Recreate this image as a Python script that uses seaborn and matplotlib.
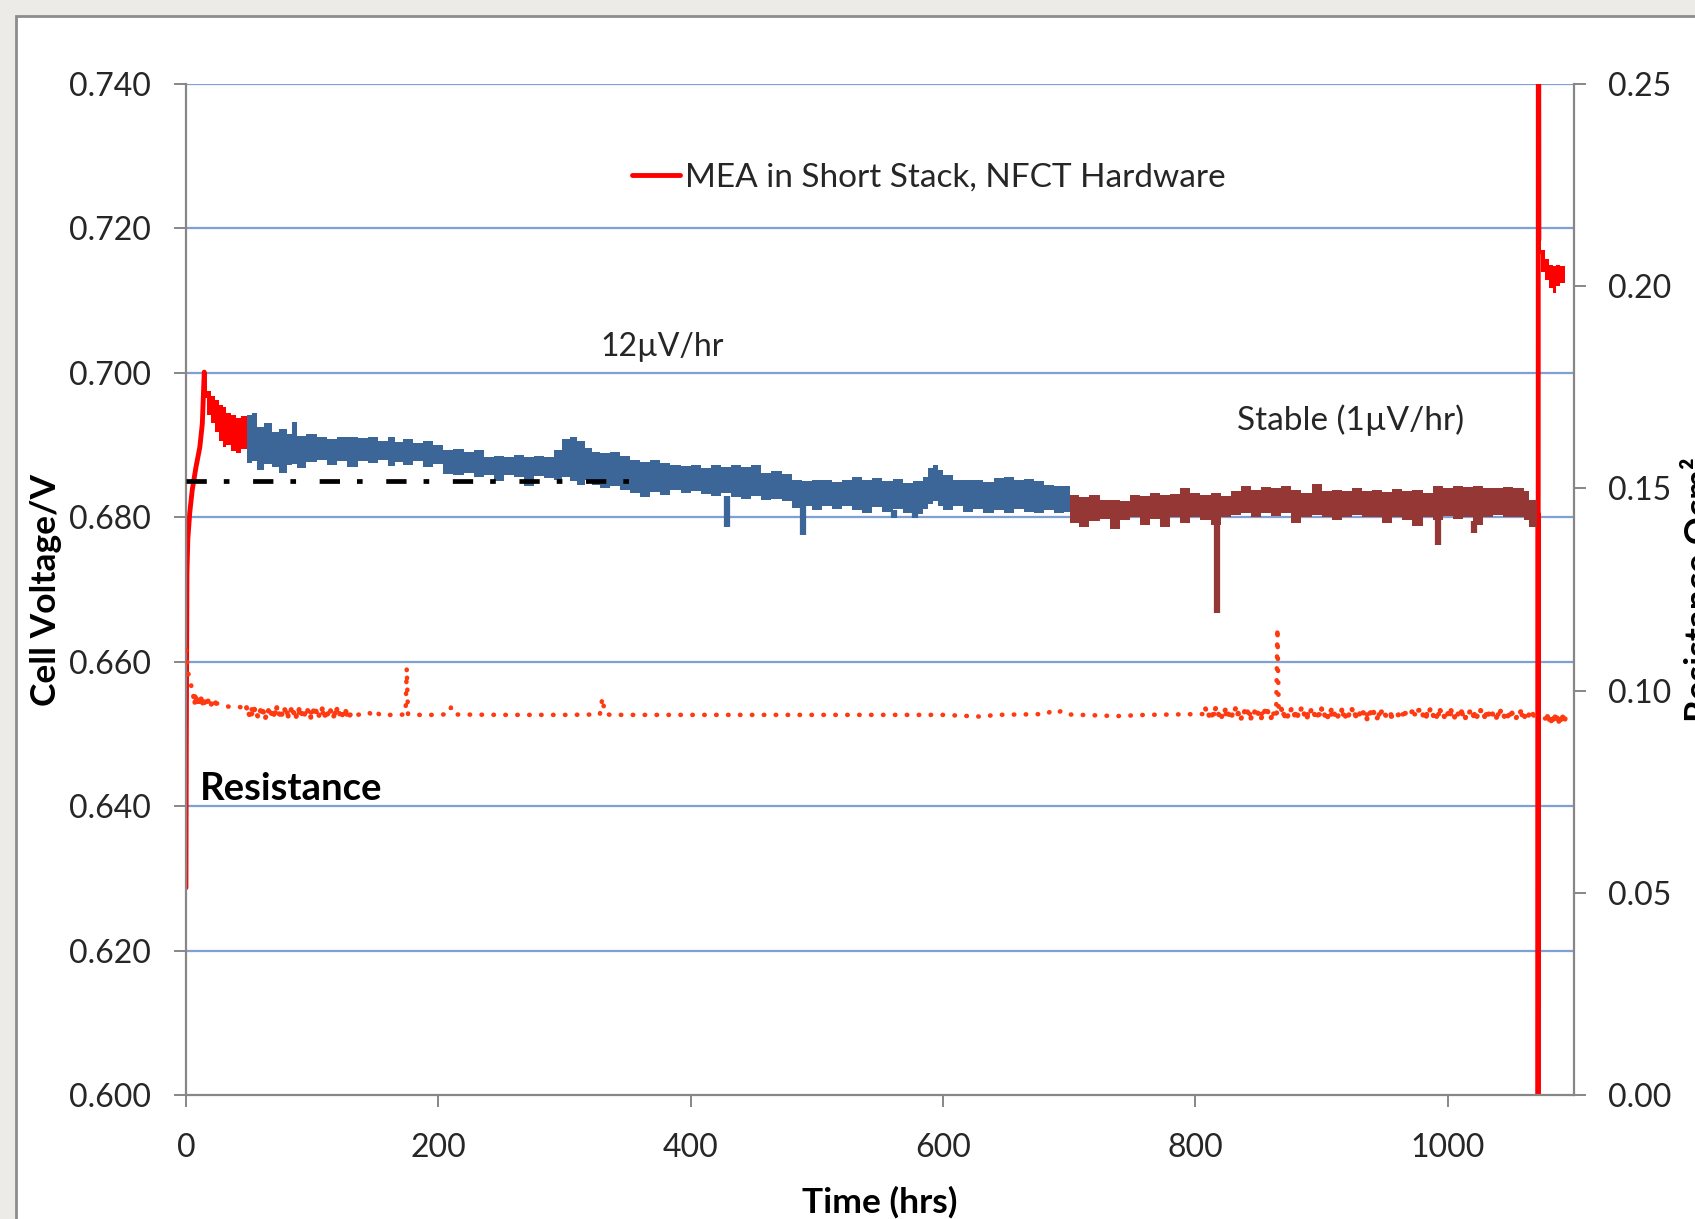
import numpy as np
import matplotlib
matplotlib.use("Agg")
import matplotlib.pyplot as plt
from matplotlib.lines import Line2D
from matplotlib.patches import Rectangle
import seaborn as sns

# ---------------- data ----------------
# initial red voltage rise (V)
rise_t = [0, 0.3, 0.8, 1.5, 3, 5, 8, 11, 13, 14.5]
rise_v = [0.6287, 0.650, 0.6723, 0.677, 0.6806, 0.6838, 0.6870, 0.6897, 0.6930, 0.7001]

# red decay band after the peak
dec_t  = [14.5, 17, 20, 23, 26, 29, 32, 36, 40, 44, 48]
dec_hi = [0.7001, 0.6975, 0.6968, 0.6962, 0.6956, 0.6953, 0.6945, 0.6942, 0.6938, 0.6940, 0.6935]
dec_lo = [0.6965, 0.6942, 0.6930, 0.6918, 0.6905, 0.6897, 0.6900, 0.6892, 0.6889, 0.6895, 0.6885]

# blue band (12 uV/hr region)
blue_t = [48, 52, 56, 62, 68, 74, 80, 84, 88, 95, 104, 112, 120, 128, 136, 144, 152, 160, 166, 172,
          180, 188, 196, 204, 212, 220, 228, 236, 244, 252, 260, 268, 276, 284, 292, 298, 304, 310,
          316, 322, 328, 336, 344, 352, 360, 368, 376, 384, 392, 400, 408, 416, 424, 432, 440, 448,
          456, 464, 472, 480, 488, 496, 504, 512, 520, 528, 536, 544, 552, 560, 568, 576, 584, 588,
          592, 596, 600, 608, 616, 624, 632, 640, 648, 656, 664, 672, 680, 688, 696, 701]
blue_hi = [0.6942, 0.6945, 0.6925, 0.6930, 0.6918, 0.6922, 0.6915, 0.6932, 0.6913, 0.6916, 0.6911,
           0.6909, 0.6911, 0.6911, 0.6910, 0.6911, 0.6906, 0.6911, 0.6904, 0.6908, 0.6903, 0.6906,
           0.6900, 0.6893, 0.6895, 0.6890, 0.6893, 0.6883, 0.6885, 0.6883, 0.6886, 0.6883, 0.6885,
           0.6883, 0.6893, 0.6908, 0.6911, 0.6905, 0.6896, 0.6891, 0.6889, 0.6890, 0.6885, 0.6880,
           0.6876, 0.6880, 0.6875, 0.6873, 0.6871, 0.6873, 0.6868, 0.6873, 0.6870, 0.6873, 0.6870,
           0.6872, 0.6862, 0.6864, 0.6860, 0.6852, 0.6850, 0.6852, 0.6851, 0.6849, 0.6852, 0.6856,
           0.6852, 0.6855, 0.6850, 0.6853, 0.6848, 0.6850, 0.6856, 0.6868, 0.6873, 0.6866, 0.6858,
           0.6852, 0.6851, 0.6852, 0.6849, 0.6855, 0.6856, 0.6852, 0.6853, 0.6850, 0.6845, 0.6843,
           0.6843, 0.6843]
blue_lo = [0.6875, 0.6878, 0.6866, 0.6874, 0.6870, 0.6862, 0.6872, 0.6874, 0.6868, 0.6876, 0.6879,
           0.6872, 0.6878, 0.6870, 0.6878, 0.6875, 0.6879, 0.6871, 0.6876, 0.6872, 0.6878, 0.6870,
           0.6874, 0.6860, 0.6858, 0.6862, 0.6856, 0.6858, 0.6850, 0.6858, 0.6856, 0.6844, 0.6857,
           0.6855, 0.6852, 0.6856, 0.6850, 0.6845, 0.6852, 0.6845, 0.6840, 0.6843, 0.6838, 0.6833,
           0.6828, 0.6835, 0.6831, 0.6838, 0.6833, 0.6836, 0.6832, 0.6830, 0.6833, 0.6828, 0.6826,
           0.6830, 0.6824, 0.6826, 0.6822, 0.6813, 0.6815, 0.6810, 0.6815, 0.6812, 0.6815, 0.6810,
           0.6806, 0.6814, 0.6808, 0.6812, 0.6806, 0.6804, 0.6812, 0.6818, 0.6822, 0.6815, 0.6810,
           0.6815, 0.6808, 0.6812, 0.6806, 0.6810, 0.6806, 0.6812, 0.6808, 0.6806, 0.6810, 0.6806,
           0.6808, 0.6808]
blue_spike_t   = [429, 489, 561, 578]
blue_spike_top = [0.6830, 0.6815, 0.6810, 0.6806]
blue_spike_lo  = [0.6787, 0.6776, 0.6799, 0.6799]

# brown band (stable 1 uV/hr region)
brown_t = [701, 708, 716, 724, 732, 740, 748, 756, 764, 772, 780, 788, 796, 804, 812, 820, 828, 836,
           844, 852, 860, 868, 876, 884, 892, 900, 908, 916, 924, 932, 940, 948, 956, 964, 972, 980,
           988, 996, 1004, 1012, 1020, 1028, 1036, 1044, 1052, 1060, 1064, 1071]
brown_hi = [0.6831, 0.6828, 0.6831, 0.6824, 0.6824, 0.6822, 0.6831, 0.6830, 0.6833, 0.6831, 0.6832,
            0.6840, 0.6833, 0.6831, 0.6833, 0.6830, 0.6836, 0.6843, 0.6838, 0.6842, 0.6840, 0.6843,
            0.6838, 0.6834, 0.6846, 0.6836, 0.6838, 0.6836, 0.6840, 0.6836, 0.6838, 0.6835, 0.6839,
            0.6836, 0.6838, 0.6834, 0.6843, 0.6840, 0.6843, 0.6842, 0.6843, 0.6840, 0.6840, 0.6842,
            0.6840, 0.6836, 0.6824, 0.6824]
brown_lo = [0.6792, 0.6787, 0.6795, 0.6797, 0.6784, 0.6796, 0.6800, 0.6790, 0.6798, 0.6787, 0.6800,
            0.6792, 0.6801, 0.6796, 0.6790, 0.6801, 0.6803, 0.6806, 0.6800, 0.6806, 0.6802, 0.6806,
            0.6792, 0.6801, 0.6803, 0.6800, 0.6796, 0.6801, 0.6803, 0.6800, 0.6801, 0.6792, 0.6800,
            0.6796, 0.6788, 0.6800, 0.6796, 0.6802, 0.6798, 0.6801, 0.6790, 0.6801, 0.6803, 0.6800,
            0.6801, 0.6796, 0.6787, 0.6787]
brown_spike_t   = [817, 992, 1021]
brown_spike_top = [0.6800, 0.6800, 0.6795]
brown_spike_lo  = [0.6667, 0.6762, 0.6778]

# voltage interruption and final red segment
drop_t = [1071.5, 1071.5, 1071.8, 1072.2]
drop_v = [0.6805, 0.55, 0.80, 0.7184]
end_t  = [1072.2, 1074, 1077, 1080, 1083, 1086, 1089, 1093]
end_hi = [0.7184, 0.7170, 0.7157, 0.7150, 0.7148, 0.7150, 0.7148, 0.7148]
end_lo = [0.7165, 0.7140, 0.7128, 0.7118, 0.7110, 0.7120, 0.7125, 0.7125]

# linear fit reference line (dash-dot)
fit_t = [0, 358]
fit_v = [0.685, 0.685]

# resistance (Ohm cm2), right axis: main dotted trace
res_t = [0, 0.5, 1, 2, 3, 4, 5, 6, 10, 15, 20, 25, 30, 35, 40, 47, 60, 80, 100, 120, 130,
         132, 140, 145, 148, 151, 154, 160, 170, 174, 175, 176, 180, 200, 208, 210, 212, 250, 300,
         328, 330, 332, 336, 400, 500, 600, 628, 632, 640, 682, 686, 690, 694, 700, 738, 760,
         806, 830, 860, 864, 865, 866, 870, 900, 950, 1000, 1050, 1071, 1075, 1080, 1093]
res_v = [0.1100, 0.1080, 0.1070, 0.1040, 0.1030, 0.1015, 0.1000, 0.0990, 0.0975, 0.0972, 0.0970,
         0.0968, 0.0962, 0.0960, 0.0960, 0.0958, 0.0947, 0.0945, 0.0946, 0.0944, 0.0940,
         0.0940, 0.0941, 0.0946, 0.0938, 0.0947, 0.0939, 0.0940, 0.0940, 0.0942, 0.1056, 0.0942,
         0.0940, 0.0940, 0.0942, 0.0958, 0.0941, 0.0940, 0.0940, 0.0941, 0.0982, 0.0944, 0.0940,
         0.0940, 0.0940, 0.0940, 0.0936, 0.0935, 0.0940, 0.0942, 0.0950, 0.0945, 0.0950, 0.0941,
         0.0937, 0.0940,
         0.0942, 0.0942, 0.0943, 0.0943, 0.1155, 0.0944, 0.0942, 0.0941, 0.0941, 0.0942, 0.0941,
         0.0938, 0.0932, 0.0930, 0.0930]

# resistance: dense (many readings) clusters
dense_a_t = [6, 7, 8, 9, 10, 11, 12, 13, 14, 16, 18, 20, 22, 25]
dense_a_v = [0.0986, 0.0970, 0.0984, 0.0968, 0.0982, 0.0969, 0.0980, 0.0966, 0.0979, 0.0965,
             0.0977, 0.0966, 0.0975, 0.0964]
dense_b_t = [48, 51, 54, 57, 60, 63, 66, 69, 72, 75, 78, 81, 84, 87, 90, 93, 96, 99, 102, 105,
             108, 111, 114, 117, 120, 123, 126, 129, 132]
dense_b_v = [0.0958, 0.0934, 0.0956, 0.0936, 0.0957, 0.0933, 0.0955, 0.0935, 0.0958, 0.0934,
             0.0955, 0.0937, 0.0957, 0.0933, 0.0956, 0.0935, 0.0954, 0.0934, 0.0957, 0.0936,
             0.0955, 0.0933, 0.0954, 0.0936, 0.0956, 0.0934, 0.0952, 0.0937, 0.0945]
dense_c_t = [808, 812, 816, 820, 824, 828, 832, 836, 840, 844, 848, 852, 856, 860, 868, 872, 876,
             880, 884, 888, 892, 896, 900, 904, 908, 912, 916, 920, 924, 928, 932, 936, 940, 944,
             948, 952, 978, 982, 986, 990, 994, 998, 1002, 1006, 1010, 1014, 1018, 1022, 1026,
             1030, 1034, 1038, 1042, 1046, 1050, 1054, 1058, 1062, 1066, 1070]
dense_c_v = [0.0955, 0.0932, 0.0956, 0.0931, 0.0954, 0.0933, 0.0957, 0.0930, 0.0955, 0.0932,
             0.0953, 0.0931, 0.0956, 0.0933, 0.0955, 0.0930, 0.0954, 0.0932, 0.0956, 0.0931,
             0.0953, 0.0933, 0.0955, 0.0930, 0.0954, 0.0932, 0.0952, 0.0931, 0.0954, 0.0933,
             0.0951, 0.0930, 0.0953, 0.0932, 0.0950, 0.0934, 0.0952, 0.0931, 0.0953, 0.0930,
             0.0951, 0.0932, 0.0954, 0.0931, 0.0952, 0.0933, 0.0950, 0.0930, 0.0951, 0.0932,
             0.0949, 0.0931, 0.0950, 0.0930, 0.0948, 0.0932, 0.0949, 0.0931, 0.0947, 0.0932]
dense_d_t = [1079, 1080, 1081, 1082, 1083, 1084, 1085, 1086, 1087, 1088, 1089, 1090, 1091, 1092,
             1093]
dense_d_v = [0.0936, 0.0924, 0.0935, 0.0925, 0.0936, 0.0924, 0.0935, 0.0925, 0.0936, 0.0924,
             0.0935, 0.0925, 0.0936, 0.0924, 0.0930]

x_ticks = [0, 200, 400, 600, 800, 1000]
v_ticks = [0.600, 0.620, 0.640, 0.660, 0.680, 0.700, 0.720, 0.740]
r_ticks = [0.00, 0.05, 0.10, 0.15, 0.20, 0.25]

legend_label = "MEA in Short Stack, NFCT Hardware"

# ---------------- styling ----------------
sns.set_style("white")
plt.rcParams['font.family'] = ['Lato', 'DejaVu Sans']
TXT = '#262626'
AX = '#878787'
GRID = '#7FA0D2'
RED = '#FF0000'
BLUE = '#3C6697'
BROWN = '#953735'
RES = '#FF3A10'
FS = 23
LFS = 25.5

fig = plt.figure(figsize=(16.95, 12.19), dpi=100, facecolor='#EDEBE7')
panel = Rectangle((16 / 1695, -0.1), 1.2, 1 - 16 / 1219 + 0.1,
                  transform=fig.transFigure, facecolor='white',
                  edgecolor='#8C8C8C', linewidth=2, zorder=-10)
fig.patches.append(panel)

ax = fig.add_axes([0.1097, 0.1017, 0.8189, 0.8294])
ax.set_zorder(1)
ax.set_facecolor('none')
ax2 = ax.twinx()
ax2.set_zorder(2)
ax2.set_facecolor('none')

# voltage traces
sns.lineplot(x=rise_t, y=rise_v, ax=ax, color=RED, linewidth=3.5, estimator=None, sort=False)
ax.fill_between(dec_t, dec_lo, dec_hi, step='post', color=RED, linewidth=0, zorder=3)
ax.fill_between(blue_t, blue_lo, blue_hi, step='post', color=BLUE, linewidth=0, zorder=3)
ax.vlines(blue_spike_t, blue_spike_lo, blue_spike_top, color=BLUE, linewidth=4.5, zorder=3)
ax.fill_between(brown_t, brown_lo, brown_hi, step='post', color=BROWN, linewidth=0, zorder=3)
ax.vlines(brown_spike_t, brown_spike_lo, brown_spike_top, color=BROWN, linewidth=4.5, zorder=3)
sns.lineplot(x=drop_t, y=drop_v, ax=ax, color=RED, linewidth=3.5, estimator=None, sort=False)
ax.fill_between(end_t, end_lo, end_hi, step='post', color=RED, linewidth=0, zorder=3)

# dash-dot fit line
sns.lineplot(x=fit_t, y=fit_v, ax=ax, color='black', linewidth=3.4, estimator=None, sort=False)
ax.lines[-1].set_dashes([4.3, 3.6, 1.2, 5.0])
ax.lines[-1].set_zorder(4)

# resistance dotted line
sns.lineplot(x=res_t, y=res_v, ax=ax2, color=RES, linewidth=3.3, estimator=None, sort=False)
ln = ax2.lines[-1]
ln.set_linestyle((0, (0.1, 2.5)))
ln.set_dash_capstyle('round')
for dt, dv in [(dense_a_t, dense_a_v), (dense_b_t, dense_b_v),
               (dense_c_t, dense_c_v), (dense_d_t, dense_d_v)]:
    sns.lineplot(x=dt, y=dv, ax=ax2, color=RES, linewidth=3.6, estimator=None, sort=False)
    l2 = ax2.lines[-1]
    l2.set_linestyle((0, (0.1, 1.3)))
    l2.set_dash_capstyle('round')

# axes limits and ticks
ax.set_xlim(0, 1100)
ax.set_ylim(0.600, 0.740)
ax2.set_ylim(0.0, 0.25)
ax.set_xticks(x_ticks)
ax.set_xticklabels([str(t) for t in x_ticks])
ax.set_yticks(v_ticks)
ax.set_yticklabels([f"{v:.3f}" for v in v_ticks])
ax2.set_yticks(r_ticks)
ax2.set_yticklabels([f"{v:.2f}" for v in r_ticks])

ax.grid(False)
ax2.grid(False)
for v in v_ticks[1:]:
    ax.axhline(v, color=GRID, linewidth=1.6, zorder=1)

for s in ['top', 'right']:
    ax.spines[s].set_visible(False)
for s in ['left', 'bottom']:
    ax.spines[s].set_color(AX)
    ax.spines[s].set_linewidth(1.6)
for s in ['top', 'left', 'bottom']:
    ax2.spines[s].set_visible(False)
ax2.spines['right'].set_color(AX)
ax2.spines['right'].set_linewidth(1.6)

ax.tick_params(axis='y', which='both', left=True, direction='out', length=8.5, width=1.4,
               color=AX, labelsize=FS, labelcolor=TXT, pad=17)
ax.tick_params(axis='x', which='both', bottom=True, direction='out', length=8.5, width=1.4,
               color=AX, labelsize=FS, labelcolor=TXT, pad=19)
ax2.tick_params(axis='y', which='both', right=True, direction='out', length=8.5, width=1.4,
                color=AX, labelsize=FS, labelcolor=TXT, pad=16)

ax.set_ylabel("Cell Voltage/V", fontsize=LFS, fontweight='bold', color='black', va='center')
ax.yaxis.set_label_coords(-0.1009, 0.5)
ax.set_xlabel("Time (hrs)", fontsize=LFS, fontweight='bold', color='black', va='center')
ax.xaxis.set_label_coords(0.5, -0.106)
ax2.set_ylabel("Resistance Ωcm²", fontsize=LFS, fontweight='bold', color='black', va='center',
               rotation=90)
ax2.yaxis.set_label_coords(1.091, 0.5)

# annotations
ax.text(377, 0.7036, "12µV/hr", fontsize=FS, color=TXT, ha='center', va='center')
ax.text(923, 0.6935, "Stable (1µV/hr)", fontsize=FS + 1, color=TXT, ha='center', va='center')
ax.text(11, 0.6424, "Resistance", fontsize=27.5, fontweight='bold', color='black',
        ha='left', va='center')

handle = Line2D([], [], color=RED, linewidth=3.5)
leg = ax.legend([handle], [legend_label], loc='center', bbox_to_anchor=(0.535, 0.907),
                frameon=False, fontsize=24, handlelength=1.45, handletextpad=0.15)
for t in leg.get_texts():
    t.set_color(TXT)
if ax2.get_legend() is not None:
    ax2.get_legend().remove()

fig.savefig("out.png", dpi=100, facecolor=fig.get_facecolor())
